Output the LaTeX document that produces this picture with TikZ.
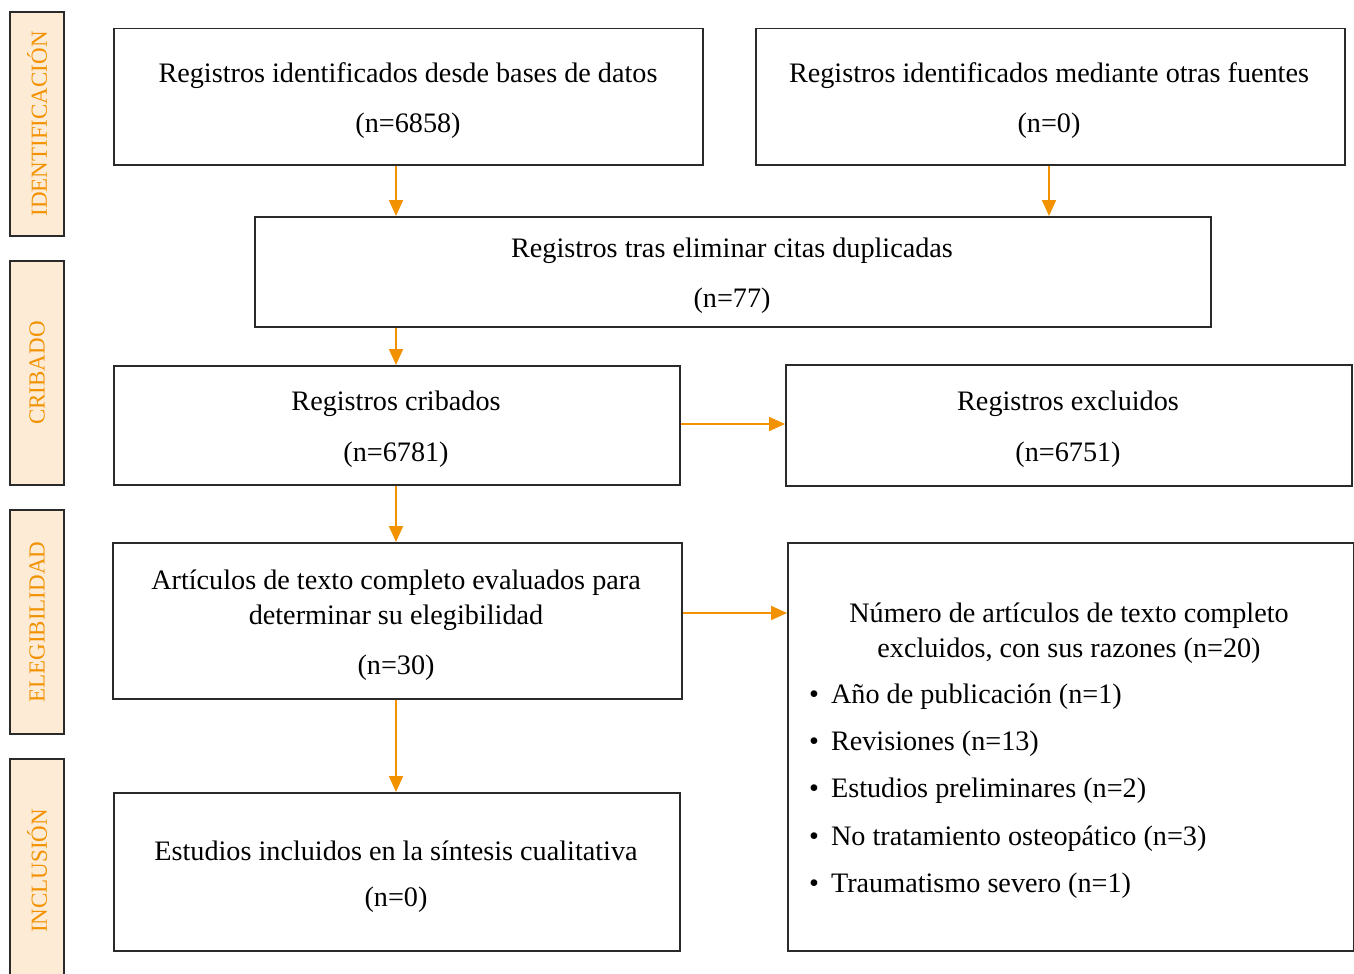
\documentclass[tikz,border=0pt]{standalone}
\usepackage{fontspec}
\setmainfont{Liberation Serif}
\usetikzlibrary{arrows.meta}
\definecolor{orng}{HTML}{F39200}
\definecolor{peach}{HTML}{FDEBD6}
\definecolor{edge}{HTML}{2A2A2A}
\tikzset{
  box/.style={draw=edge, line width=1.5pt, rectangle, inner sep=0pt, anchor=north west},
  side/.style={draw=edge, line width=1.5pt, fill=peach},
  sidetxt/.style={rotate=90, text=orng, font=\fontsize{23}{23}\selectfont, inner sep=0pt},
  txt/.style={font=\fontsize{28.2}{35}\selectfont, inner sep=0pt, align=center},
  arr/.style={draw=orng, line width=2pt, -{Triangle[length=16pt,width=14pt]}, shorten >=0pt},
}
\begin{document}
\begin{tikzpicture}[x=1pt,y=-1pt]
\useasboundingbox (0,0) rectangle (1354,974);
% side labels
\node[side, minimum width=54pt, minimum height=224pt, inner sep=0pt] (s1) at (37,124) {};
\node[sidetxt] (s1t) at (s1.center) {IDENTIFICACIÓN};
\node[side, minimum width=54pt, minimum height=224pt, inner sep=0pt] (s2) at (37,373) {};
\node[sidetxt] (s2t) at (s2.center) {CRIBADO};
\node[side, minimum width=54pt, minimum height=224pt, inner sep=0pt] (s3) at (37,622) {};
\node[sidetxt] (s3t) at (s3.center) {ELEGIBILIDAD};
\fill[peach] (10,759) rectangle (64,980);
\draw[edge, line width=1.5pt] (10,980) -- (10,759) -- (64,759) -- (64,980);
\node[sidetxt] (s4t) at (37,871) {INCLUSIÓN};
% boxes
\node[box, minimum width=589pt, minimum height=136pt] (b1) at (113,28) {};
\node[txt] (b1a) at (408,76) {Registros identificados desde bases de datos};
\node[txt] (b1b) at (408,126) {(n=6858)};
\node[box, minimum width=589pt, minimum height=136pt] (b2) at (755,28) {};
\node[txt] (b2a) at (1049,76) {Registros identificados mediante otras fuentes};
\node[txt] (b2b) at (1049,126) {(n=0)};
\node[box, minimum width=956pt, minimum height=110pt] (b3) at (254,216) {};
\node[txt] (b3a) at (732,251) {Registros tras eliminar citas duplicadas};
\node[txt] (b3b) at (732,301) {(n=77)};
\node[box, minimum width=566pt, minimum height=119pt] (b4) at (113,365) {};
\node[txt] (b4a) at (396,404) {Registros cribados};
\node[txt] (b4b) at (396,455) {(n=6781)};
\node[box, minimum width=566pt, minimum height=121pt] (b5) at (785,364) {};
\node[txt] (b5a) at (1068,404) {Registros excluidos};
\node[txt] (b5b) at (1068,455) {(n=6751)};
\node[box, minimum width=569pt, minimum height=156pt] (b6) at (112,542) {};
\node[txt] (b6a) at (396,600) {Artículos de texto completo evaluados para\\determinar su elegibilidad};
\node[txt] (b6b) at (396,668) {(n=30)};
\node[box, minimum width=566pt, minimum height=408pt] (b7) at (787,542) {};
\node[txt] (b7a) at (1069,633) {Número de artículos de texto completo\\excluidos, con sus razones (n=20)};
\node[txt, anchor=west] (l1) at (809,697) {•\hspace{12pt}Año de publicación (n=1)};
\node[txt, anchor=west] (l2) at (809,744) {•\hspace{12pt}Revisiones (n=13)};
\node[txt, anchor=west] (l3) at (809,791) {•\hspace{12pt}Estudios preliminares (n=2)};
\node[txt, anchor=west] (l4) at (809,839) {•\hspace{12pt}No tratamiento osteopático (n=3)};
\node[txt, anchor=west] (l5) at (809,886) {•\hspace{12pt}Traumatismo severo (n=1)};
\node[box, minimum width=566pt, minimum height=158pt] (b8) at (113,792) {};
\node[txt] (b8a) at (396,851) {Estudios incluidos en la síntesis cualitativa};
\node[txt] (b8b) at (396,900) {(n=0)};
% arrows
\coordinate (xa) at (396,0);
\coordinate (xb) at (1049,0);
\coordinate (y1) at (0,424);
\coordinate (y2) at (0,613);
\draw[arr] (b1.south -| xa) -- (b3.north -| xa);
\draw[arr] (b2.south -| xb) -- (b3.north -| xb);
\draw[arr] (b3.south -| xa) -- (b4.north -| xa);
\draw[arr] (b4.east |- y1) -- (b5.west |- y1);
\draw[arr] (b4.south -| xa) -- (b6.north -| xa);
\draw[arr] (b6.east |- y2) -- (b7.west |- y2);
\draw[arr] (b6.south -| xa) -- (b8.north -| xa);
\end{tikzpicture}
\end{document}
